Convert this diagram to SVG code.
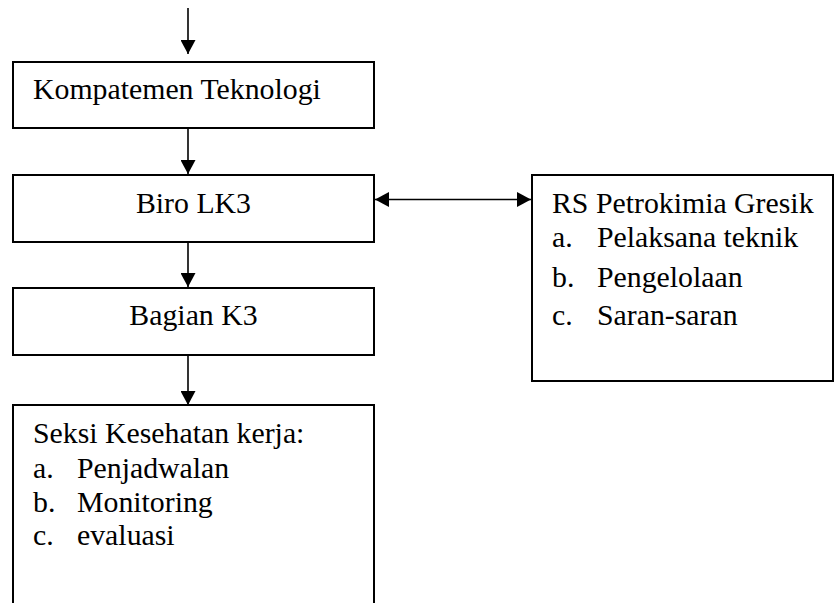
<svg xmlns="http://www.w3.org/2000/svg" width="835" height="603" viewBox="0 0 835 603">
<style>
.box{fill:#fff;stroke:#000;stroke-width:2}
.ln{stroke:#000;stroke-width:1.6;fill:none}
</style>
<defs>
<marker id="ah" markerWidth="15" markerHeight="15" refX="14" refY="7.5" orient="auto-start-reverse" markerUnits="userSpaceOnUse">
<path d="M0,0 L14,7.5 L0,15 Z" fill="#000"/>
</marker>
</defs>
<rect width="835" height="603" fill="#fff"/>
<g id="connectors">
<line class="ln" x1="188" y1="8" x2="188" y2="54" marker-end="url(#ah)"/>
<line class="ln" x1="188" y1="129" x2="188" y2="174" marker-end="url(#ah)"/>
<line class="ln" x1="188" y1="242" x2="188" y2="287" marker-end="url(#ah)"/>
<line class="ln" x1="188" y1="355" x2="188" y2="405" marker-end="url(#ah)"/>
<line class="ln" x1="375" y1="199.5" x2="531" y2="199.5" marker-start="url(#ah)" marker-end="url(#ah)"/>
</g>
<g font-family="Liberation Serif, serif" font-size="29.8" fill="#000">
<g id="kompatemen">
<rect class="box" x="13" y="62" width="361" height="66"/>
<text x="33" y="99">Kompatemen Teknologi</text>
</g>
<g id="biro">
<rect class="box" x="13" y="175" width="361" height="67"/>
<text text-anchor="middle" x="193.5" y="213">Biro LK3</text>
</g>
<g id="bagian">
<rect class="box" x="13" y="288" width="361" height="67"/>
<text text-anchor="middle" x="193.5" y="325">Bagian K3</text>
</g>
<g id="seksi">
<path class="box" d="M13,610 L13,405 L374,405 L374,610"/>
<text x="33" y="443">Seksi Kesehatan kerja:</text>
<text x="33" y="478">a.</text><text x="77" y="478">Penjadwalan</text>
<text x="33" y="511.5">b.</text><text x="77" y="511.5">Monitoring</text>
<text x="33" y="545">c.</text><text x="77" y="545">evaluasi</text>
</g>
<g id="rs">
<rect class="box" x="532" y="175" width="301" height="206"/>
<text x="552" y="213">RS Petrokimia Gresik</text>
<text x="552" y="247">a.</text><text x="597" y="247">Pelaksana teknik</text>
<text x="552" y="287">b.</text><text x="597" y="287">Pengelolaan</text>
<text x="552" y="325">c.</text><text x="597" y="325">Saran-saran</text>
</g>
</g>
</svg>
